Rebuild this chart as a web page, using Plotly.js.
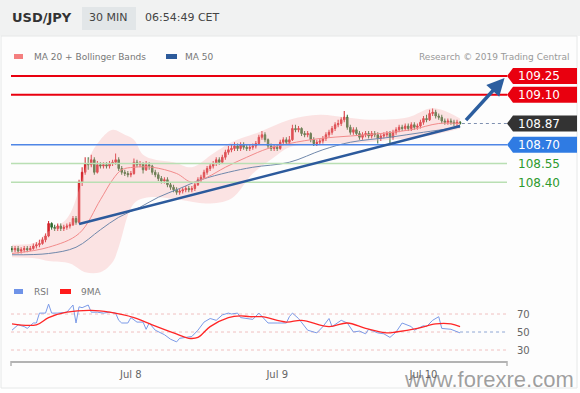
<!DOCTYPE html>
<html><head><meta charset="utf-8">
<script src="https://cdn.plot.ly/plotly-3.0.1.min.js"></script>
<style>html,body{margin:0;padding:0;background:#fff}#chart{width:580px;height:393px}</style>
</head><body><div id="chart"></div>
<script>
// ---- DATA (30-minute candles, index 0 = first candle on the chart) ----
const candleOpen = [
107.87,107.86,107.87,107.85,107.86,107.87,107.86,107.87,107.89,107.90,
107.91,107.94,107.97,108.07,108.04,108.03,108.05,108.03,108.04,108.05,
108.06,108.11,108.08,108.40,108.48,108.55,108.54,108.58,108.48,108.54,
108.53,108.54,108.53,108.55,108.56,108.58,108.51,108.48,108.47,108.46,
108.47,108.56,108.54,108.55,108.50,108.54,108.53,108.48,108.46,108.43,
108.41,108.42,108.38,108.36,108.34,108.32,108.33,108.34,108.35,108.34,
108.35,108.38,108.42,108.44,108.48,108.51,108.53,108.55,108.58,108.56,
108.60,108.64,108.66,108.67,108.69,108.67,108.70,108.68,108.67,108.68,
108.69,108.71,108.76,108.78,108.74,108.69,108.67,108.68,108.67,108.72,
108.74,108.72,108.74,108.83,108.82,108.83,108.79,108.78,108.79,108.74,
108.71,108.72,108.73,108.75,108.78,108.80,108.83,108.86,108.87,108.90,
108.92,108.84,108.80,108.82,108.79,108.76,108.78,108.79,108.77,108.79,
108.78,108.75,108.77,108.78,108.79,108.76,108.80,108.82,108.84,108.83,
108.85,108.83,108.86,108.84,108.85,108.88,108.91,108.90,108.95,108.96,
108.93,108.92,108.89,108.88,108.89,108.88,108.87,108.88];
const candleClose = [
107.86,107.87,107.85,107.86,107.87,107.86,107.87,107.89,107.90,107.91,
107.94,107.97,108.07,108.04,108.03,108.05,108.03,108.04,108.05,108.06,
108.11,108.08,108.40,108.48,108.55,108.54,108.58,108.48,108.54,108.53,
108.54,108.53,108.55,108.56,108.58,108.51,108.48,108.47,108.46,108.47,
108.56,108.54,108.55,108.50,108.54,108.53,108.48,108.46,108.43,108.41,
108.42,108.38,108.36,108.34,108.32,108.33,108.34,108.35,108.34,108.35,
108.38,108.42,108.44,108.48,108.51,108.53,108.55,108.58,108.56,108.60,
108.64,108.66,108.67,108.69,108.67,108.70,108.68,108.67,108.68,108.69,
108.71,108.76,108.78,108.74,108.69,108.67,108.68,108.67,108.72,108.74,
108.72,108.74,108.83,108.82,108.83,108.79,108.78,108.79,108.74,108.71,
108.72,108.73,108.75,108.78,108.80,108.83,108.86,108.87,108.90,108.92,
108.84,108.80,108.82,108.79,108.76,108.78,108.79,108.77,108.79,108.78,
108.75,108.77,108.78,108.79,108.76,108.80,108.82,108.84,108.83,108.85,
108.83,108.86,108.84,108.85,108.88,108.91,108.90,108.95,108.96,108.93,
108.92,108.89,108.88,108.89,108.88,108.87,108.88,108.87];
const candleHigh = [
107.89,107.89,107.89,107.88,107.89,107.89,107.89,107.91,107.92,107.94,
107.96,107.99,108.09,108.08,108.06,108.07,108.07,108.06,108.07,108.08,
108.13,108.13,108.42,108.52,108.60,108.60,108.62,108.60,108.57,108.56,
108.56,108.56,108.57,108.58,108.63,108.60,108.53,108.50,108.49,108.49,
108.59,108.58,108.57,108.56,108.57,108.56,108.54,108.50,108.48,108.45,
108.44,108.44,108.40,108.38,108.36,108.35,108.36,108.37,108.37,108.37,
108.40,108.44,108.46,108.50,108.53,108.55,108.57,108.60,108.60,108.62,
108.66,108.69,108.70,108.72,108.71,108.72,108.72,108.70,108.70,108.71,
108.73,108.78,108.81,108.80,108.75,108.71,108.70,108.70,108.74,108.76,
108.76,108.77,108.86,108.86,108.85,108.84,108.81,108.81,108.80,108.76,
108.74,108.75,108.77,108.80,108.82,108.85,108.88,108.90,108.92,108.97,
108.94,108.86,108.84,108.84,108.81,108.80,108.81,108.81,108.81,108.81,
108.80,108.79,108.80,108.81,108.81,108.82,108.84,108.86,108.86,108.87,
108.87,108.88,108.88,108.87,108.90,108.93,108.94,108.98,108.99,108.98,
108.95,108.94,108.91,108.91,108.91,108.90,108.90,108.89];
const candleLow = [
107.84,107.84,107.83,107.83,107.84,107.84,107.85,107.86,107.87,107.88,
107.90,107.92,107.96,108.02,108.01,108.01,108.01,108.01,108.02,108.03,
108.05,108.06,108.07,108.37,108.46,108.50,108.52,108.46,108.47,108.51,
108.51,108.51,108.51,108.53,108.54,108.49,108.46,108.45,108.44,108.44,
108.46,108.52,108.52,108.47,108.49,108.50,108.46,108.44,108.41,108.39,
108.39,108.36,108.34,108.32,108.30,108.30,108.31,108.32,108.32,108.32,
108.33,108.37,108.40,108.43,108.46,108.49,108.51,108.53,108.54,108.55,
108.58,108.62,108.64,108.65,108.65,108.65,108.66,108.65,108.65,108.66,
108.67,108.70,108.74,108.72,108.67,108.65,108.65,108.65,108.66,108.70,
108.70,108.70,108.73,108.80,108.80,108.77,108.76,108.76,108.72,108.69,
108.69,108.70,108.71,108.73,108.76,108.78,108.81,108.84,108.85,108.88,
108.82,108.78,108.78,108.77,108.74,108.74,108.76,108.75,108.75,108.76,
108.71,108.73,108.75,108.76,108.71,108.74,108.78,108.80,108.81,108.81,
108.81,108.81,108.82,108.82,108.83,108.86,108.88,108.89,108.93,108.91,
108.90,108.87,108.86,108.86,108.86,108.85,108.85,108.86];
const candleIdx = candleClose.map((_, i) => i);

// Indicators (candle index, value)
const bbUpperIdx = [0,8,11,18,22,25,29,33,37,40,43,47,53,59,66,72,81,91,101,109,118,130,137,141,147];
const bbUpper    = [107.90,107.92,107.99,108.11,108.34,108.58,108.74,108.82,108.78,108.74,108.62,108.58,108.56,108.52,108.63,108.72,108.80,108.90,108.94,108.92,108.90,108.92,108.99,108.98,108.91];
const bbLowerIdx = [0,8,12,19,24,29,33,35,40,45,55,64,72,79,86,91,101,112,124,134,147];
const bbLower    = [107.80,107.79,107.77,107.75,107.68,107.68,107.76,107.88,108.23,108.28,108.26,108.23,108.27,108.47,108.60,108.68,108.71,108.71,108.74,108.76,108.83];
const ma20Idx = [0,12,22,29,33,36,40,46,54,59,64,70,77,84,91,101,111,121,131,140,147];
const ma20    = [107.83,107.88,107.99,108.26,108.42,108.50,108.52,108.52,108.47,108.40,108.44,108.52,108.60,108.67,108.71,108.75,108.77,108.79,108.82,108.87,108.87];
const ma50Idx = [0,12,21,29,35,42,48,55,62,71,79,91,102,111,124,135,147];
const ma50    = [107.82,107.83,107.88,108.02,108.12,108.20,108.28,108.35,108.42,108.48,108.52,108.56,108.66,108.72,108.76,108.80,108.84];
const rsiIdx = [0,2,4,5,7,8,9,11,12,13,15,17,18,20,21,22,23,25,26,28,30,32,34,35,36,38,39,41,43,44,45,47,50,52,54,55,57,59,61,63,65,67,69,71,72,74,75,79,81,84,87,90,91,92,94,97,100,102,104,105,108,110,112,114,116,117,120,122,124,126,128,131,132,135,136,138,140,141,144,147];
const rsi    = [52,58,56,54,60,60,71,71,81,71,71,72,72,80,60,78,77,80,72,72,71,72,71,63,60,60,66,61,61,53,60,52,47,42,39,43,44,45,52,61,65,63,69,71,70,71,66,64,71,60,60,60,67,71,65,52,49,56,65,56,63,60,50,51,48,53,49,48,44,50,60,56,52,57,56,63,67,54,53,49];
const rsiMaIdx = [0,8,12,18,26,32,40,46,53,58,61,65,71,75,78,82,90,95,104,110,116,123,126,133,139,144,147];
const rsiMa    = [59,58,66,72,74,72,66,58,49,43,44,56,66,68,67,67,61,63,56,60,54,49,50,54,59,59,56];

const xTickIdx = [39, 87, 135];
const xTickText = ['Jul 8', 'Jul 9', 'Jul 10'];

const resistance = [109.25, 109.10];
const pivot = 108.70;
const supports = [108.55, 108.40];
const lastPrice = 108.87;
const trendFrom = {i: 22, p: 108.066};
const trendTo = {i: 147, p: 108.85};
const arrowFrom = {i: 148.5, p: 108.885};
const arrowTo = {i: 161.6, p: 109.235};

// ---- GEOMETRY ----
const W = 580, H = 393;
const px = x => x / W, py = y => 1 - y / H;
const PRICE_RANGE = [107.666, 109.378], PRICE_PX = [274, 60];
const priceToPx = p => PRICE_PX[1] + (PRICE_RANGE[1] - p) / (PRICE_RANGE[1] - PRICE_RANGE[0]) * (PRICE_PX[0] - PRICE_PX[1]);
const FONT = 'DejaVu Sans, Verdana, sans-serif';

const traces = [
  {x: bbLowerIdx, y: bbLower, type: 'scatter', mode: 'lines', line: {width: 0, shape: 'spline', smoothing: 1}, hoverinfo: 'skip', showlegend: false},
  {x: bbUpperIdx, y: bbUpper, type: 'scatter', mode: 'lines', line: {width: 0, shape: 'spline', smoothing: 1}, fill: 'tonexty', fillcolor: 'rgba(248,175,175,0.33)', hoverinfo: 'skip', showlegend: false},
  {x: ma50Idx, y: ma50, type: 'scatter', mode: 'lines', line: {width: 1, color: '#7088ab', shape: 'spline'}, showlegend: false},
  {x: ma20Idx, y: ma20, type: 'scatter', mode: 'lines', line: {width: 1, color: '#f28b8b', shape: 'spline'}, showlegend: false},
  {x: candleIdx, open: candleOpen, high: candleHigh, low: candleLow, close: candleClose, type: 'candlestick',
   increasing: {line: {color: '#d2232a', width: 1}, fillcolor: '#d2232a'},
   decreasing: {line: {color: '#2f6a2f', width: 1}, fillcolor: '#2f6a2f'},
   whiskerwidth: 0, showlegend: false},
  {x: rsiIdx, y: rsi, xaxis: 'x', yaxis: 'y2', type: 'scatter', mode: 'lines', line: {width: 1, color: '#7c9be8'}, showlegend: false},
  {x: rsiMaIdx, y: rsiMa, xaxis: 'x', yaxis: 'y2', type: 'scatter', mode: 'lines', line: {width: 1.3, color: '#ff2626', shape: 'spline'}, showlegend: false}
];

const shapes = [
  // background panel & header
  {type: 'rect', xref: 'paper', yref: 'paper', x0: 0, x1: 1, y0: py(36), y1: 1, fillcolor: '#f1f2f2', line: {width: 0}, layer: 'below'},
  {type: 'rect', xref: 'paper', yref: 'paper', x0: px(1), x1: px(577), y0: py(388), y1: py(36), fillcolor: '#fdfdfd', line: {width: 1, color: '#e6e8e8'}, layer: 'below'},
  {type: 'rect', xref: 'paper', yref: 'paper', x0: px(82), x1: px(136), y0: py(30), y1: py(7), fillcolor: '#e2e6e8', line: {width: 0}, layer: 'below'},
  // legend swatches
  {type: 'rect', xref: 'paper', yref: 'paper', x0: px(14), x1: px(23), y0: py(59), y1: py(54), fillcolor: '#f47f7f', line: {width: 0}},
  {type: 'rect', xref: 'paper', yref: 'paper', x0: px(166), x1: px(177), y0: py(59), y1: py(54), fillcolor: '#2d5b9b', line: {width: 0}},
  {type: 'rect', xref: 'paper', yref: 'paper', x0: px(14), x1: px(23), y0: py(294), y1: py(289), fillcolor: '#6f93e8', line: {width: 0}},
  {type: 'rect', xref: 'paper', yref: 'paper', x0: px(60), x1: px(71), y0: py(294), y1: py(289), fillcolor: '#ff1a1a', line: {width: 0}},
  // level lines
  ...resistance.map(v => ({type: 'line', xref: 'x', yref: 'y', x0: -0.33, x1: 162.4, y0: v, y1: v, line: {color: '#e9000f', width: 2}})),
  {type: 'line', xref: 'x', yref: 'y', x0: -0.33, x1: 162.4, y0: pivot, y1: pivot, line: {color: '#4f86e6', width: 1.5}},
  ...supports.map(v => ({type: 'line', xref: 'x', yref: 'y', x0: -0.33, x1: 162.4, y0: v, y1: v, line: {color: '#b9dfb3', width: 1.5}})),
  {type: 'line', xref: 'x', yref: 'y', x0: 147.6, x1: 162.4, y0: lastPrice, y1: lastPrice, line: {color: '#7f90b0', width: 1, dash: 'dot'}},
  // trendline
  {type: 'line', xref: 'x', yref: 'y', x0: trendFrom.i, x1: trendTo.i, y0: trendFrom.p, y1: trendTo.p, line: {color: '#2c5a9c', width: 2.5}},
  // RSI reference lines
  {type: 'line', xref: 'x', yref: 'y2', x0: -0.33, x1: 162.4, y0: 70, y1: 70, line: {color: '#f0c0c0', width: 1, dash: 'dot'}, layer: 'below'},
  {type: 'line', xref: 'x', yref: 'y2', x0: -0.33, x1: 147, y0: 50, y1: 50, line: {color: '#f0c0c0', width: 1, dash: 'dot'}, layer: 'below'},
  {type: 'line', xref: 'x', yref: 'y2', x0: 147, x1: 162.4, y0: 50, y1: 50, line: {color: '#8ea6d4', width: 1, dash: 'dot'}, layer: 'below'},
  {type: 'line', xref: 'x', yref: 'y2', x0: -0.33, x1: 162.4, y0: 30, y1: 30, line: {color: '#f0c0c0', width: 1, dash: 'dot'}, layer: 'below'},
  // x-axis end ticks
  {type: 'line', xref: 'paper', yref: 'paper', x0: px(11), x1: px(11), y0: py(361), y1: py(366), line: {color: '#b3b3b3', width: 1.5}},
  {type: 'line', xref: 'paper', yref: 'paper', x0: px(507), x1: px(507), y0: py(361), y1: py(366), line: {color: '#b3b3b3', width: 1.5}}
];

// price tags
const tags = [
  {v: 109.25, color: '#e9000f'},
  {v: 109.10, color: '#e9000f'},
  {v: lastPrice, color: '#333333'},
  {v: pivot, color: '#2f7be3'}
];
tags.forEach(t => {
  const yc = priceToPx(t.v);
  const pts = [[507, yc], [513, yc - 8], [577, yc - 8], [577, yc + 8], [513, yc + 8]];
  const path = 'M ' + pts.map(p => px(p[0]) + ',' + py(p[1])).join(' L ') + ' Z';
  shapes.push({type: 'path', xref: 'paper', yref: 'paper', path: path, fillcolor: t.color, line: {width: 0}});
});

const ann = (text, x, y, size, color, extra) => Object.assign({
  text: text, xref: 'paper', yref: 'paper', x: px(x), y: py(y), xanchor: 'left', yanchor: 'middle',
  showarrow: false, font: {family: FONT, size: size, color: color}
}, extra || {});

const annotations = [
  ann('<b>USD/JPY</b>', 10, 18, 13, '#333333'),
  ann('30 MIN', 87, 18, 11, '#444444'),
  ann('06:54:49 CET', 143, 18, 11, '#444444'),
  ann('MA 20 + Bollinger Bands', 32, 57, 9, '#777777'),
  ann('MA 50', 183, 57, 9, '#777777'),
  ann('Research © 2019 Trading Central', 571, 57, 9, '#999999', {xanchor: 'right'}),
  ann('RSI', 32, 292, 9, '#777777'),
  ann('9MA', 79, 292, 9, '#777777'),
  ...tags.map(t => ann(t.v.toFixed(2), 516, priceToPx(t.v) + 0.5, 12, '#ffffff')),
  ...supports.map(v => ann(v.toFixed(2), 516, priceToPx(v) + 0.5, 12, '#2e9a2e')),
  {text: '', xref: 'x', yref: 'y', axref: 'x', ayref: 'y', x: arrowTo.i, y: arrowTo.p, ax: arrowFrom.i, ay: arrowFrom.p,
   showarrow: true, arrowhead: 2, arrowsize: 1, arrowwidth: 3.5, arrowcolor: '#2c5e9f', standoff: 0},
  ann('www.forexre.com', 576, 379, 22, 'rgba(95,95,95,0.6)', {xanchor: 'right', font: {family: 'Liberation Sans, Arial, sans-serif', size: 22, color: 'rgba(95,95,95,0.6)'}})
];

const layout = {
  width: W, height: H,
  margin: {l: 0, r: 0, t: 0, b: 0, pad: 0},
  paper_bgcolor: '#ffffff', plot_bgcolor: 'rgba(0,0,0,0)',
  showlegend: false,
  xaxis: {
    domain: [px(11), px(507)], range: [-0.33, 162.4], anchor: 'y2',
    showgrid: false, zeroline: false, showline: true, linecolor: '#b3b3b3', linewidth: 1.5,
    tickvals: xTickIdx, ticktext: xTickText, ticks: 'outside', ticklen: 3, tickcolor: 'rgba(0,0,0,0)',
    tickfont: {family: FONT, size: 10, color: '#666666'},
    rangeslider: {visible: false}, fixedrange: true
  },
  yaxis: {
    domain: [py(PRICE_PX[0]), py(PRICE_PX[1])], range: PRICE_RANGE, visible: false, fixedrange: true
  },
  yaxis2: {
    domain: [py(361), py(298)], range: [17.78, 87.78], side: 'right', anchor: 'x',
    showgrid: false, zeroline: false, showline: false,
    tickvals: [30, 50, 70], ticks: 'outside', ticklen: 7, tickcolor: 'rgba(0,0,0,0)',
    tickfont: {family: FONT, size: 10, color: '#666666'}, fixedrange: true
  },
  shapes: shapes,
  annotations: annotations
};

Plotly.newPlot('chart', traces, layout, {displayModeBar: false, staticPlot: true});
</script>
</body></html>
